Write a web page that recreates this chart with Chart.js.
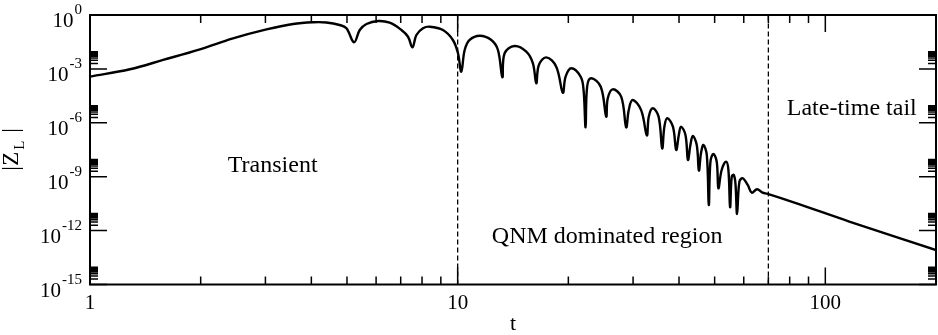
<!DOCTYPE html>
<html>
<head>
<meta charset="utf-8">
<script src="https://cdn.jsdelivr.net/npm/chart.js@4"></script>
<style>
  body { margin: 0; background: #fff; }
  canvas { display: block; }
</style>
</head>
<body>
<canvas id="grafico" width="938" height="335"></canvas>
<script>
// valores: |Z_L| em funcao de t
const tempos = [
  1, 1.284, 1.581, 1.991, 2.449, 3.02, 3.568, 4.046, 4.395, 4.775,
  4.983, 5.226, 5.416, 5.649, 6.072, 6.531, 7.031, 7.328, 7.534, 7.723,
  8.049, 8.395, 9.12, 9.705, 10.02, 10.23, 10.45, 10.78, 11.48, 12.35,
  12.87, 13.23, 13.42, 14.28, 15.37, 16.02, 16.36, 16.63, 17.42, 18.54,
  19.32, 19.66, 20.37, 21.6, 22.0, 22.28, 22.5, 23.07, 24.5, 25.35,
  25.6, 26.4, 27.86, 28.73, 29.2, 29.9, 31.55, 32.7, 33.1, 33.95,
  35.2, 36.0, 36.5, 37.15, 38.5, 39.3, 39.95, 40.5, 41.65, 42.3,
  42.96, 43.6, 44.7, 45.3, 45.9, 46.6, 47.6, 48.2, 48.7, 49.6,
  50.65, 51.2, 52.24, 53.7, 54.5, 55.08, 55.65, 56.35, 56.95, 57.54,
  58.39, 59.6, 61.5, 63.1, 65.2, 67.5, 69.7, 82.4, 116.2, 200
];
const amplitudes = [
  3.72e-4, 9.55e-4, 3.16e-3, 1.23e-2, 5.01e-2, 0.158, 0.316, 0.393, 0.383, 0.278,
  0.182, 0.0303, 0.146, 0.316, 0.463, 0.372, 0.146, 0.0617, 0.0158, 0.0771,
  0.182, 0.223, 0.146, 0.0407, 7.41e-3, 7.0e-4, 0.0113, 0.0407, 0.0705, 0.0407,
  0.0113, 3.4e-4, 7.41e-3, 0.0188, 9.1e-3, 2.05e-3, 1.58e-4, 1.65e-3, 4.4e-3, 1.33e-3,
  4.7e-5, 3.7e-4, 1.08e-3, 3.7e-4, 6.7e-5, 5.6e-7, 1.02e-4, 3.0e-4, 1.02e-4, 2.2e-6,
  2.3e-5, 7.3e-5, 2.8e-5, 5.6e-7, 5.1e-6, 1.86e-5, 5.1e-6, 2.0e-7, 2.2e-6, 6.4e-6,
  2.2e-6, 3.8e-8, 6.1e-7, 1.78e-6, 6.1e-7, 3.1e-8, 2.1e-7, 6.1e-7, 2.1e-7, 8.5e-9,
  5.8e-8, 1.85e-7, 5.8e-8, 2.2e-9, 2.0e-8, 5.8e-8, 1.62e-8, 2.7e-11, 6.9e-9, 1.84e-8,
  6.9e-9, 2.27e-10, 2.37e-9, 6.86e-9, 2.37e-9, 2.0e-11, 1.0e-9, 1.26e-9, 4.3e-10, 8.5e-12,
  5.3e-10, 8.2e-10, 3.47e-10, 1.29e-10, 2.0e-10, 1.29e-10, 1.1e-10, 3.6e-11, 3.2e-12, 8.3e-14
];
// limites das regioes (linhas tracejadas)
const limites = [10, 70];
// escalas
const xMaiores = [1, 10, 100];
const xMenores = [2, 3, 4, 5, 6, 7, 8, 9, 20, 30, 40, 50, 60, 70, 80, 90];
const yMaiores = [1, 1e-3, 1e-6, 1e-9, 1e-12, 1e-15];
const fatoresMenores = [2, 3, 4, 5, 6, 7, 8, 9];
const textos = [
  { texto: "Transient", t: 3.14, z: 1.8e-9 },
  { texto: "QNM dominated region", t: 25.5, z: 2.0e-13 },
  { texto: "Late-time tail", t: 118, z: 2.7e-6 }
];

const FONTE = '"Liberation Serif", "Times New Roman", serif';

const curva = tempos.map((t, i) => ({ x: t, y: amplitudes[i] }));
const tracejadas = limites.map(t => ({
  data: [{ x: t, y: 1e-15 }, { x: t, y: 1 }],
  borderColor: '#000',
  borderWidth: 1.3,
  borderDash: [5, 3],
  pointRadius: 0,
  tension: 0
}));

// moldura, ticks para dentro, rotulos do eixo y e textos
const moldura = {
  id: 'moldura',
  afterDraw(chart) {
    const { ctx, chartArea: a, scales: { x, y } } = chart;
    ctx.save();
    ctx.strokeStyle = '#000';
    ctx.fillStyle = '#000';

    ctx.lineWidth = 1.5;
    ctx.beginPath();
    xMaiores.concat(xMenores).forEach(v => {
      const px = x.getPixelForValue(v);
      const len = xMaiores.includes(v) ? 17 : 8;
      ctx.moveTo(px, a.bottom); ctx.lineTo(px, a.bottom - len);
      ctx.moveTo(px, a.top); ctx.lineTo(px, a.top + len);
    });
    yMaiores.forEach(v => {
      const py = y.getPixelForValue(v);
      ctx.moveTo(a.left, py); ctx.lineTo(a.left + 17, py);
      ctx.moveTo(a.right, py); ctx.lineTo(a.right - 17, py);
      if (v < 1) {
        fatoresMenores.forEach(f => {
          const pm = y.getPixelForValue(v * f);
          ctx.moveTo(a.left, pm); ctx.lineTo(a.left + 8, pm);
          ctx.moveTo(a.right, pm); ctx.lineTo(a.right - 8, pm);
        });
      }
    });
    ctx.stroke();

    ctx.lineWidth = 2;
    ctx.strokeRect(a.left, a.top, a.right - a.left, a.bottom - a.top);

    // rotulos 10^n
    ctx.textAlign = 'right';
    ctx.textBaseline = 'alphabetic';
    yMaiores.forEach(v => {
      const py = y.getPixelForValue(v);
      const exp = String(Math.round(Math.log10(v)));
      ctx.font = '15px ' + FONTE;
      ctx.fillText(exp, a.left - 8, py - 1);
      const w = ctx.measureText(exp).width;
      ctx.font = '21px ' + FONTE;
      ctx.fillText('10', a.left - 9 - w, py + 12);
    });

    // titulo do eixo y: |Z_L|
    ctx.save();
    ctx.translate(18, (a.top + a.bottom) / 2);
    ctx.rotate(-Math.PI / 2);
    ctx.textAlign = 'left';
    ctx.font = '23px ' + FONTE;
    ctx.fillText('|', -21, 0);
    ctx.fillText('Z', -16, 0);
    ctx.fillText('|', 17, 0);
    ctx.font = '15px ' + FONTE;
    ctx.fillText('L', 0, 6);
    ctx.restore();

    // textos das regioes
    ctx.textAlign = 'center';
    ctx.font = '24px ' + FONTE;
    textos.forEach(n => {
      ctx.fillText(n.texto, x.getPixelForValue(n.t), y.getPixelForValue(n.z));
    });
    ctx.restore();
  }
};

new Chart(document.getElementById('grafico'), {
  type: 'line',
  data: {
    datasets: [
      ...tracejadas,
      {
        data: curva,
        borderColor: '#000',
        borderWidth: 2.4,
        pointRadius: 0,
        tension: 0.38
      }
    ]
  },
  options: {
    responsive: false,
    animation: false,
    devicePixelRatio: 1,
    layout: { padding: { top: 15, right: 2, left: 0, bottom: 0 } },
    plugins: { legend: { display: false }, tooltip: { enabled: false } },
    scales: {
      x: {
        type: 'logarithmic',
        min: 1,
        max: 200,
        afterBuildTicks: s => { s.ticks = xMaiores.map(v => ({ value: v })); },
        afterFit: s => { s.height = 50.5; },
        grid: { display: false, drawTicks: false },
        border: { display: false },
        ticks: {
          padding: 6,
          maxRotation: 0,
          color: '#000',
          font: { family: FONTE, size: 21 },
          callback: v => String(v)
        },
        title: {
          display: true,
          text: 't',
          color: '#000',
          padding: 0,
          font: { family: FONTE, size: 22, lineHeight: 1 }
        }
      },
      y: {
        type: 'logarithmic',
        min: 1e-15,
        max: 1,
        afterBuildTicks: s => { s.ticks = yMaiores.map(v => ({ value: v })); },
        afterFit: s => { s.width = 90; },
        grid: { display: false, drawTicks: false },
        border: { display: false },
        ticks: { display: false }
      }
    }
  },
  plugins: [moldura]
});
</script>
</body>
</html>
